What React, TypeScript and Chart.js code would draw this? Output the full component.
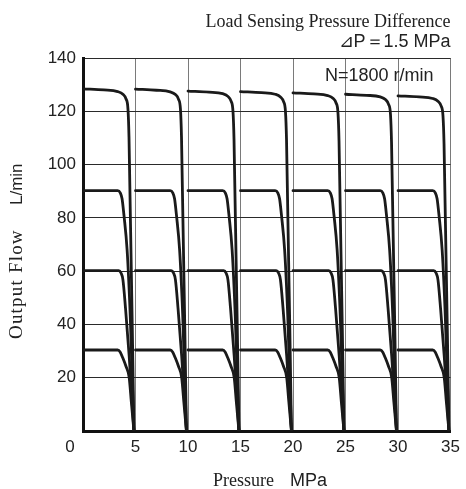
import React, { useEffect, useRef } from "react";
import { Chart, registerables } from "chart.js";

Chart.register(...registerables);

// Pressure (MPa) at which each band of curves starts
const bandStarts = [0, 5, 10, 15, 20, 25, 30];
// Flow at the start of the top (full-displacement) curve in each band, L/min
const topStartFlow = [128.4, 128.3, 127.6, 127.4, 126.9, 126.4, 125.8];
// Top curve shape: pressure offset within band and drop from start flow (last point falls to 0)
const topShapeP = [0, 2.0, 3.3, 3.8, 4.1, 4.28, 4.38, 4.85];
const topShapeDrop = [0, 0.4, 1.0, 2.0, 3.8, 7.5, 18, 0];

// 90 L/min curve
const c90P = [0, 3.3, 3.55, 3.72, 3.9, 4.2, 4.5, 4.85];
const c90F = [90.2, 90.2, 89.4, 87.2, 81, 68, 43, 0];
// 60 L/min curve
const c60P = [0, 3.4, 3.62, 3.8, 4.05, 4.4, 4.85];
const c60F = [60.2, 60.2, 59.3, 56.8, 46, 28, 0];
// 30 L/min curve
const c30P = [0, 3.3, 3.55, 3.75, 4.1, 4.4, 4.6, 4.85];
const c30F = [30.4, 30.4, 29.6, 27.8, 24.2, 20, 11, 0];

const xTickValues = [0, 5, 10, 15, 20, 25, 30, 35];
const yTickValues = [0, 20, 40, 60, 80, 100, 120, 140];

const SANS = "'Liberation Sans', Arial, Helvetica, sans-serif";
const SERIF = "'Liberation Serif', 'Times New Roman', serif";

export default function App() {
  const ref = useRef<HTMLCanvasElement>(null);

  useEffect(() => {
    document.body.style.margin = "0";
    const canvas = ref.current;
    if (!canvas) return;

    const mk = (pts: { x: number; y: number }[]) => ({
      data: pts,
      borderColor: "#1a1a1a",
      borderWidth: 2.8,
      pointRadius: 0,
      fill: false,
      cubicInterpolationMode: "monotone" as const,
      borderCapStyle: "round" as const,
      borderJoinStyle: "round" as const,
    });

    const datasets: any[] = [];
    bandStarts.forEach((s, b) => {
      const last = topShapeP.length - 1;
      datasets.push(
        mk(
          topShapeP.map((p, i) => ({
            x: s + p,
            y: i === last ? 0 : topStartFlow[b] - topShapeDrop[i],
          }))
        )
      );
      datasets.push(mk(c90P.map((p, i) => ({ x: s + p, y: c90F[i] }))));
      datasets.push(mk(c60P.map((p, i) => ({ x: s + p, y: c60F[i] }))));
      datasets.push(mk(c30P.map((p, i) => ({ x: s + p, y: c30F[i] }))));
    });

    const textPlugin = {
      id: "texts",
      afterDraw(chart: any) {
        const ctx = chart.ctx as CanvasRenderingContext2D;
        const area = chart.chartArea;
        ctx.save();
        ctx.fillStyle = "#222";

        // Top-right heading
        ctx.textAlign = "right";
        ctx.textBaseline = "alphabetic";
        ctx.font = `18px ${SERIF}`;
        ctx.fillText("Load Sensing Pressure Difference", area.right, 27);
        ctx.font = `18px ${SANS}`;
        ctx.fillText("⊿P＝1.5 MPa", area.right, 47);

        // Inside label
        ctx.textAlign = "left";
        ctx.fillText("N=1800 r/min", 325, 81);

        // Origin label
        ctx.textAlign = "center";
        ctx.textBaseline = "middle";
        ctx.font = `17px ${SANS}`;
        ctx.fillText("0", area.left - 13, area.bottom + 6 + 10.2);

        // X title
        ctx.textBaseline = "alphabetic";
        ctx.textAlign = "left";
        ctx.font = `18px ${SERIF}`;
        ctx.fillText("Pressure", 213, 486);
        ctx.font = `18px ${SANS}`;
        ctx.fillText("MPa", 290, 486);

        // Y title (rotated)
        ctx.save();
        ctx.translate(22, 339);
        ctx.rotate(-Math.PI / 2);
        ctx.font = `19px ${SERIF}`;
        (ctx as any).letterSpacing = "1.2px";
        ctx.fillText("Output Flow", 0, 0);
        (ctx as any).letterSpacing = "0px";
        ctx.font = `17px ${SANS}`;
        ctx.fillText("L/min", 134, 0);
        ctx.restore();

        ctx.restore();
      },
    };

    const chart = new Chart(canvas, {
      type: "line",
      data: { datasets },
      options: {
        animation: false,
        responsive: false,
        events: [],
        layout: { padding: { top: 58, right: 11, left: 0, bottom: 0 } },
        plugins: {
          legend: { display: false },
          tooltip: { enabled: false },
          title: { display: false },
        },
        scales: {
          x: {
            type: "linear",
            min: 0,
            max: 35,
            afterBuildTicks: (scale: any) => {
              scale.ticks = xTickValues.map((v) => ({ value: v }));
            },
            afterFit: (scale: any) => {
              scale.height = 58;
            },
            grid: {
              color: "#7a7a7a",
              lineWidth: 1,
              drawTicks: false,
            },
            border: { display: true, color: "#111", width: 3 },
            ticks: {
              padding: 6,
              color: "#222",
              font: { family: SANS, size: 17 },
              maxRotation: 0,
              autoSkip: false,
              callback: (v: any) => (v === 0 ? "" : String(v)),
            },
          },
          y: {
            type: "linear",
            min: 0,
            max: 140,
            afterBuildTicks: (scale: any) => {
              scale.ticks = yTickValues.map((v) => ({ value: v }));
            },
            afterFit: (scale: any) => {
              scale.width = 83;
            },
            grid: {
              color: "#2a2a2a",
              lineWidth: 1,
              drawTicks: false,
            },
            border: { display: true, color: "#111", width: 3 },
            ticks: {
              padding: 7,
              color: "#222",
              font: { family: SANS, size: 17 },
              autoSkip: false,
              callback: (v: any) => (v === 0 ? "" : String(v)),
            },
          },
        },
      },
      plugins: [textPlugin],
    });

    return () => chart.destroy();
  }, []);

  return (
    <div style={{ width: 466, height: 489 }}>
      <canvas ref={ref} width={466} height={489} style={{ display: "block" }} />
    </div>
  );
}
